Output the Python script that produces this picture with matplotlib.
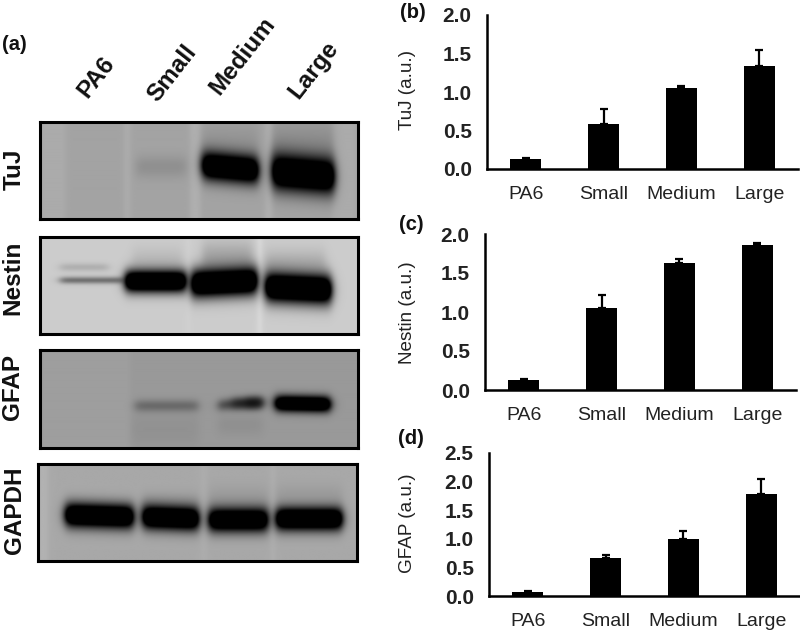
import numpy as np
import matplotlib
matplotlib.use('Agg')
import matplotlib.pyplot as plt

plt.rcParams['font.family'] = ['Liberation Sans', 'DejaVu Sans']

W, H = 800, 632

categories = ['PA6', 'Small', 'Medium', 'Large']

tuj_values = [0.13, 0.58, 1.05, 1.34]
tuj_err = [0.01, 0.20, 0.03, 0.21]
nestin_values = [0.13, 1.05, 1.63, 1.86]
nestin_err = [0.01, 0.17, 0.05, 0.03]
gfap_values = [0.07, 0.66, 0.99, 1.78]
gfap_err = [0.02, 0.05, 0.15, 0.27]

tuj_ticks = [0.0, 0.5, 1.0, 1.5, 2.0]
nestin_ticks = [0.0, 0.5, 1.0, 1.5, 2.0]
gfap_ticks = [0.0, 0.5, 1.0, 1.5, 2.0, 2.5]

# bands of the blots: x start, x end, y centre, half height, darkness, tilt
tuj_bands = [(96, 146, 45, 11, 0.12, 0), (162, 218, 46, 14, 1.0, 5),
             (232, 294, 52, 18, 1.0, 5),
             (162, 218, 26, 24, 0.10, 0), (232, 294, 26, 28, 0.14, 0)]
nestin_bands = [(20, 68, 30, 4, 0.14, 0), (20, 84, 43, 3.5, 0.45, 0),
                (85, 146, 44, 11, 1.0, 0), (151, 217, 45, 14, 1.0, -3),
                (225, 291, 51, 15, 1.0, 3),
                (92, 142, 25, 14, 0.10, 0), (162, 212, 22, 18, 0.2, 0),
                (225, 285, 26, 14, 0.14, 0)]
gfap_bands = [(95, 158, 55, 6, 0.30, 0), (178, 222, 53, 6, 0.5, -3),
              (192, 222, 52.5, 6, 0.5, 0), (206, 222, 52, 6, 0.5, 0),
              (235, 290, 53, 8, 1.0, 1),
              (92, 158, 78, 18, 0.05, 0), (178, 222, 74, 10, 0.06, 0)]
gapdh_bands = [(27, 95, 52, 12, 1.0, 2), (104, 160, 54, 12, 1.0, 2),
               (170, 229, 56, 12, 0.95, 0), (237, 303, 55, 11.5, 1.0, 0),
               (104, 160, 38, 10, 0.07, 0), (170, 229, 36, 14, 0.08, 0),
               (237, 303, 32, 12, 0.07, 0)]

# x start, x end, lift of the grey value
tuj_streaks = [(0, 26, 0.03), (84, 90, 0.04), (150, 160, 0.05), (225, 232, 0.05),
               (292, 316, 0.03)]
nestin_streaks = [(146, 150, 0.02), (218, 221, 0.08)]
gfap_streaks = [(0, 90, 0.02)]
gapdh_streaks = [(0, 10, 0.04), (162, 168, 0.02), (232, 236, 0.03)]


def smooth_step(t):
    return 0.5 * (1 + np.tanh(t))


def blot_image(bands, streaks, bg):
    x, y = np.meshgrid(np.arange(0, 318, 0.5), np.arange(0, 97, 0.5))
    img = np.full(x.shape, float(bg))
    for x0, x1, lift in streaks:
        img += lift * smooth_step((x - x0) / 3) * smooth_step((x1 - x) / 3)
    for x0, x1, yc, hh, dark, tilt in bands:
        centre = yc + tilt * (x - (x0 + x1) / 2) / (x1 - x0)
        across = smooth_step((x - x0) / 5) * smooth_step((x1 - x) / 5)
        down = np.exp(-((y - centre) / hh) ** 2)
        # strong bands saturate to black with a soft rim
        gain = 1.7 if dark > 0.5 else 1.0
        img *= 1 - np.minimum(dark * gain * across * down, 1)
    return np.clip(img, 0, 1)


def pixel_axes(x0, y0, x1, y1):
    return fig.add_axes([x0 / W, 1 - y1 / H, (x1 - x0) / W, (y1 - y0) / H])


def text_at(x, y, s, **kw):
    kw.setdefault('ha', 'center')
    kw.setdefault('va', 'center')
    fig.text(x / W, 1 - y / H, s, **kw)


fig = plt.figure(figsize=(8, 6.32), dpi=100)

# western blots
blots = [
    ('TuJ', (40, 122, 358, 219), tuj_bands, tuj_streaks, 0.64, 14, 169),
    ('Nestin', (40, 237, 358, 334), nestin_bands, nestin_streaks, 0.80, 13, 278),
    ('GFAP', (40, 350, 358, 448), gfap_bands, gfap_streaks, 0.60, 13, 387),
    ('GAPDH', (38, 464, 357, 561), gapdh_bands, gapdh_streaks, 0.66, 14, 510),
]
for name, box, bands, streaks, bg, label_x, label_y in blots:
    ax = pixel_axes(*box)
    ax.imshow(blot_image(bands, streaks, bg), cmap='gray', vmin=0, vmax=1,
              aspect='auto', extent=(0, 318, 97, 0), interpolation='bilinear')
    ax.set_xticks([])
    ax.set_yticks([])
    for s in ax.spines.values():
        s.set_linewidth(2.2)
    text_at(label_x, label_y, name, rotation=90, fontsize=17.5,
            fontweight='bold', color='#111111')

# lane headers
for name, x, y in zip(categories, [96, 172, 242, 314], [77, 73, 56, 70]):
    text_at(x, y, name, rotation=52, rotation_mode='anchor', fontsize=17.5,
            fontweight='bold', color='#111111')

# bar charts
charts = [
    ('TuJ (a.u.)', (487, 15, 798, 169), tuj_values, tuj_err, tuj_ticks, 90, 199),
    ('Nestin (a.u.)', (485, 234, 796, 390), nestin_values, nestin_err, nestin_ticks, 313, 420),
    ('GFAP (a.u.)', (489, 453, 800, 596), gfap_values, gfap_err, gfap_ticks, 523, 626),
]
for ylabel, box, values, err, ticks, label_y, cat_y in charts:
    ax = pixel_axes(*box)
    ax.bar(range(4), values, width=0.4, color='black', yerr=[[0] * 4, err],
           error_kw=dict(ecolor='black', elinewidth=1.6, capsize=3, capthick=1.6))
    ax.set_xlim(-0.5, 3.5)
    ax.set_ylim(ticks[0], ticks[-1])
    ax.set_yticks(ticks)
    ax.set_yticklabels(['%.1f' % t for t in ticks], fontsize=15, fontweight='bold',
                       color='#222222')
    ax.set_xticks([])
    ax.tick_params(axis='y', length=0, pad=11)
    ax.spines['top'].set_visible(False)
    ax.spines['right'].set_visible(False)
    ax.spines['left'].set_linewidth(1.8)
    ax.spines['bottom'].set_linewidth(1.8)
    for i, name in enumerate(categories):
        ax_x = box[0] + (i + 0.5) * (box[2] - box[0]) / 4
        text_at(ax_x, cat_y, name, va='baseline', fontsize=14, color='#222222')
    text_at(408, label_y, ylabel, rotation=90, fontsize=13.6, color='#222222')

for label, x, y in [('(a)', 2, 45), ('(b)', 400, 12), ('(c)', 399, 224), ('(d)', 398, 438)]:
    text_at(x, y, label, ha='left', fontsize=14.5, fontweight='bold', color='#111111')

fig.savefig('out.png', dpi=100)
